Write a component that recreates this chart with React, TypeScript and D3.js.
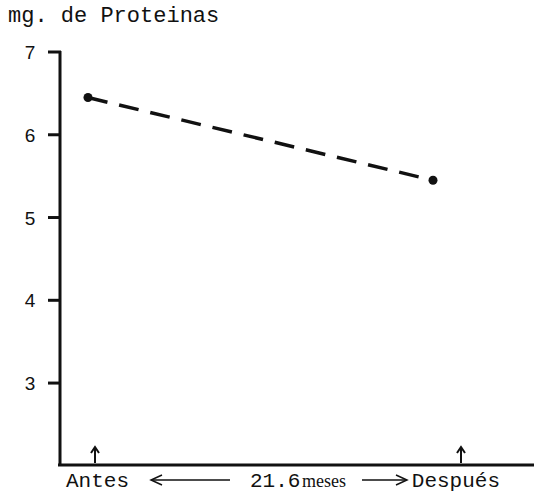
import { useEffect, useRef } from 'react'
import * as d3 from 'd3'

const categories = ['Antes', 'Después']
const months = [0, 21.6]
const proteins = [6.45, 5.45]
const yTicks = [3, 4, 5, 6, 7]
const yLabel = 'mg. de Proteinas'
const periodLabel = '21.6'
const periodUnit = 'meses'

export default function App() {
  const svgRef = useRef<SVGSVGElement>(null)

  useEffect(() => {
    if (!svgRef.current) return
    const width = 534
    const height = 492
    const svg = d3.select(svgRef.current)
    svg.selectAll('*').remove()

    const axisX = 60
    const axisY = 465

    const x = d3.scaleLinear().domain([0, 21.6]).range([88, 433])
    const y = d3.scaleLinear().domain([2.01, 7]).range([axisY, 52])

    const data = months.map((m, i) => ({ m, v: proteins[i], c: categories[i] }))

    // y label
    svg.append('text')
      .attr('x', 8).attr('y', 22)
      .attr('font-family', 'Liberation Mono, DejaVu Sans Mono, monospace')
      .attr('font-size', 22).attr('fill', '#111')
      .text(yLabel)

    // y axis line
    svg.append('line')
      .attr('x1', axisX).attr('x2', axisX)
      .attr('y1', y(7) - 1).attr('y2', axisY + 1)
      .attr('stroke', '#111').attr('stroke-width', 3)

    // x axis line
    svg.append('line')
      .attr('x1', axisX - 2).attr('x2', width)
      .attr('y1', axisY).attr('y2', axisY)
      .attr('stroke', '#111').attr('stroke-width', 3)

    // ticks
    const ticks = svg.append('g')
    ticks.selectAll('line')
      .data(yTicks)
      .join('line')
      .attr('x1', axisX - 12).attr('x2', axisX + 1)
      .attr('y1', d => y(d)).attr('y2', d => y(d))
      .attr('stroke', '#111').attr('stroke-width', 3)
    ticks.selectAll('text')
      .data(yTicks)
      .join('text')
      .attr('x', 30).attr('y', d => y(d) + 7)
      .attr('text-anchor', 'middle')
      .attr('font-family', 'Liberation Sans, Arial, sans-serif')
      .attr('font-size', 19).attr('fill', '#111')
      .text(d => d)

    // dashed line
    const line = d3.line<{ m: number; v: number }>().x(d => x(d.m)).y(d => y(d.v))
    svg.append('path')
      .datum(data)
      .attr('d', line)
      .attr('fill', 'none')
      .attr('stroke', '#111').attr('stroke-width', 3.5)
      .attr('stroke-dasharray', '20 12')

    svg.selectAll('circle.pt')
      .data(data)
      .join('circle')
      .attr('class', 'pt')
      .attr('cx', d => x(d.m)).attr('cy', d => y(d.v))
      .attr('r', 4.5).attr('fill', '#111')

    // arrows marking the two moments
    const arrowOffsets = [7, 28]
    const arrows = svg.append('g')
    data.forEach((d, i) => {
      const ax = x(d.m) + arrowOffsets[i]
      arrows.append('line')
        .attr('x1', ax).attr('x2', ax)
        .attr('y1', axisY - 2).attr('y2', axisY - 17)
        .attr('stroke', '#111').attr('stroke-width', 2)
      arrows.append('path')
        .attr('d', `M${ax - 4},${axisY - 12}L${ax},${axisY - 18}L${ax + 4},${axisY - 12}`)
        .attr('fill', 'none').attr('stroke', '#111').attr('stroke-width', 2)
    })

    // bottom labels
    const mono = 'Liberation Mono, DejaVu Sans Mono, monospace'
    svg.append('text')
      .attr('x', 66).attr('y', 487)
      .attr('font-family', mono).attr('font-size', 21).attr('fill', '#111')
      .text(categories[0])
    svg.append('text')
      .attr('x', 500).attr('y', 487)
      .attr('text-anchor', 'end')
      .attr('font-family', mono).attr('font-size', 21).attr('fill', '#111')
      .text(categories[1])

    svg.append('text')
      .attr('x', 250).attr('y', 487)
      .attr('font-family', mono).attr('font-size', 21).attr('fill', '#111')
      .text(periodLabel)
    svg.append('text')
      .attr('x', 302).attr('y', 487)
      .attr('font-family', 'Liberation Serif, serif').attr('font-size', 18).attr('fill', '#111')
      .text(periodUnit)

    // left arrow
    svg.append('line')
      .attr('x1', 152).attr('x2', 230).attr('y1', 480).attr('y2', 480)
      .attr('stroke', '#111').attr('stroke-width', 1.5)
    svg.append('path')
      .attr('d', 'M162,475L151,480L162,485')
      .attr('fill', 'none').attr('stroke', '#111').attr('stroke-width', 1.5)
    // right arrow
    svg.append('line')
      .attr('x1', 362).attr('x2', 406).attr('y1', 480).attr('y2', 480)
      .attr('stroke', '#111').attr('stroke-width', 1.5)
    svg.append('path')
      .attr('d', 'M396,475L407,480L396,485')
      .attr('fill', 'none').attr('stroke', '#111').attr('stroke-width', 1.5)

    svg.attr('width', width).attr('height', height)
  }, [])

  return (
    <svg
      ref={svgRef}
      width={534}
      height={492}
      style={{ position: 'absolute', left: 0, top: 0, background: '#fff' }}
    />
  )
}
